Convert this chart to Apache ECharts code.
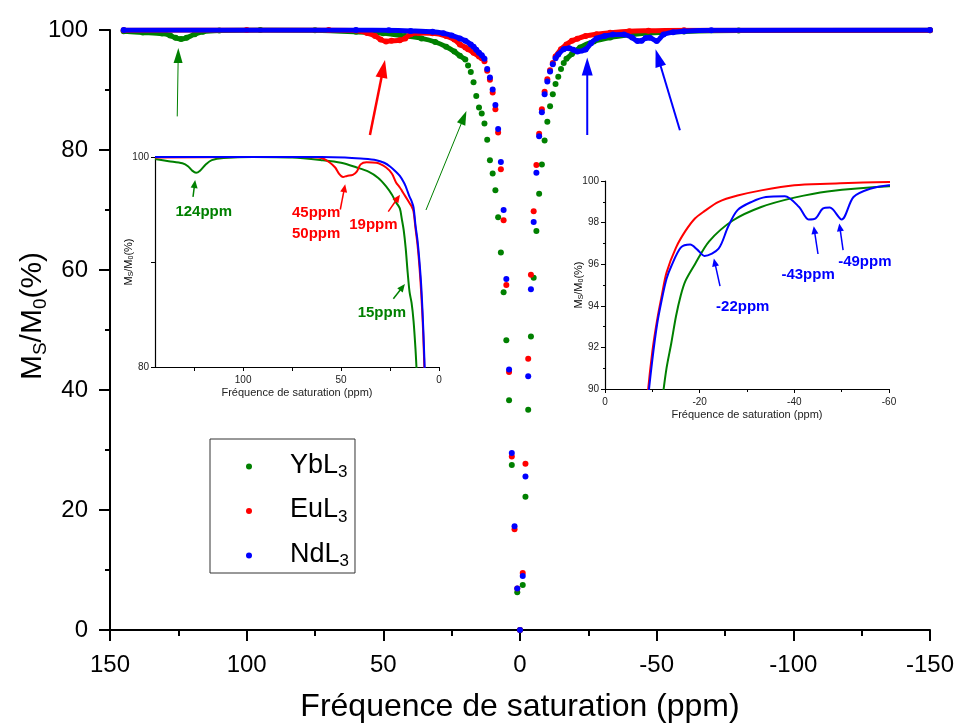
<!DOCTYPE html>
<html><head><meta charset="utf-8">
<script src="https://cdn.jsdelivr.net/npm/echarts@6/dist/echarts.min.js"></script>
<style>html,body{margin:0;padding:0;background:#fff}#c{width:959px;height:724px}</style>
</head><body><div id="c"></div>
<script>
const FONT = '"Liberation Sans", Arial, Helvetica, sans-serif';
const seriesNames = ['YbL3', 'EuL3', 'NdL3'];
const colors = ['#008000', '#ff0000', '#0000ff'];

// [ppm, Ms/M0 %]
const ybL3 = [[145,99.8],[138,99.6],[131,99.4],[128,99.1],[126,98.7],[124,98.5],[122,98.7],[119,99.3],[116,99.7],[110,99.9],[95,100],[75,99.95],[60,99.7],[50,99.45],[42,99.0],[36,98.6],[31,98.0],[27,97.2],[24,96.4],[22,95.7],[20,95.1],[19,94.1],[18,93.0],[17,91.3],[16,89.0],[15,87.1],[14,86.1],[13,84.4],[12,81.7],[11,78.3],[10,76.1],[9,73.3],[8,68.8],[7,62.9],[6,56.3],[5,48.3],[4,38.3],[3,27.5],[1,6.3],[0,0],[-1,7.5],[-2,22.2],[-3,36.7],[-4,48.9],[-5,58.7],[-6,66.5],[-7,72.7],[-8,77.6],[-9,81.6],[-10,84.7],[-11,87.3],[-12,89.3],[-13,91.0],[-14,92.2],[-15,93.5],[-16,94.5],[-17,95.2],[-19,96.0],[-22,97.1],[-27,98.1],[-33,98.75],[-40,99.2],[-47,99.5],[-60,99.75],[-80,99.9],[-150,99.95]];
const euL3 = [[145,99.95],[100,100],[70,100],[60,99.9],[56,99.5],[53,99.0],[51,98.4],[49,98.1],[47,98.2],[44,98.3],[42,98.6],[40,99.3],[37,99.5],[32,99.45],[27,99.0],[24,98.4],[22,97.6],[20,97.1],[19,96.8],[17,96.2],[15,95.6],[14,95.3],[13,94.8],[12,93.2],[11,91.7],[10,89.6],[9,86.8],[8,82.9],[7,76.8],[6,68.3],[5,57.5],[4,43.0],[3,28.9],[2,16.8],[1,6.9],[0,0],[-1,9.5],[-2,27.7],[-3,45.2],[-4,59.2],[-5,69.8],[-6,77.5],[-7,82.7],[-8,86.8],[-9,89.7],[-10,91.8],[-11,93.3],[-12,94.5],[-13,95.6],[-15,96.8],[-17,97.6],[-19,98.2],[-21,98.55],[-24,99.0],[-28,99.3],[-33,99.55],[-40,99.8],[-47,99.87],[-60,99.95],[-150,99.95]];
const ndL3 = [[145,100],[60,100],[48,99.95],[40,99.85],[32,99.7],[28,99.45],[25,99.1],[22,98.6],[20,98.2],[18,97.6],[17,97.2],[16,96.7],[15,96.2],[14,95.8],[13,95.2],[12,93.5],[11,92.1],[10,90.1],[9,87.5],[8,83.5],[7,78.0],[6,70.0],[5,58.5],[4,43.4],[3,29.5],[2,17.3],[1,6.9],[0,0],[-1,9.0],[-2,25.6],[-3,42.3],[-4,56.8],[-5,68.0],[-6,76.2],[-7,82.3],[-8,86.3],[-9,89.3],[-10,91.4],[-11,93.1],[-12,94.3],[-13,95.3],[-14,95.9],[-16,96.8],[-18,96.95],[-19.5,96.7],[-21,96.4],[-24,96.75],[-26,97.8],[-28,98.6],[-31,99.0],[-34,99.23],[-38,99.27],[-41,98.75],[-43,98.15],[-44.5,98.2],[-46,98.67],[-47.5,98.72],[-50,98.15],[-52.5,99.23],[-56,99.63],[-60,99.8],[-70,99.95],[-150,100]];

// axis tick values
const mainXRange = [-150, 150], mainXStep = 50;
const mainYRange = [0, 100], mainYStep = 20;
const inset1XTicks = [0, 25, 50, 75, 100, 125], inset1XLabels = [0, 50, 100];
const inset1YTicks = [80, 90, 100], inset1YLabels = [80, 100];
const inset2XRange = [-60, 0], inset2YRange = [90, 100];

// annotations (data coordinates)
const mainArrowTails = [[125.4,85.6],[54.9,82.5],[34.4,70.0],[-24.6,82.5],[-58.5,83.3]];
const mainArrowTips  = [[125.0,97.0],[49.4,95.0],[19.6,86.5],[-24.6,95.4],[-49.6,96.8]];
const mainArrowColor = [0,1,0,2,2];
const inset1Labels = [['124ppm',120.1,94.8,0],['45ppm',62.7,94.7,1],['50ppm',62.7,92.7,1],['19ppm',33.5,93.5,1],['15ppm',29.2,85.2,0]];
const inset1ArrowTails = [[125.6,96.2],[50.4,95.0],[25.9,94.8],[23.3,86.5]];
const inset1ArrowTips  = [[124.5,97.8],[47.9,97.4],[19.9,96.4],[17.4,87.9]];
const inset1ArrowColor = [0,1,1,0];
const inset2Labels = [['-22ppm',-29.1,93.96,2],['-43ppm',-42.9,95.5,2],['-49ppm',-54.9,96.12,2]];
const inset2ArrowTails = [[-24.3,94.95],[-45.0,96.49],[-50.3,96.68]];
const inset2ArrowTips  = [[-23.0,96.28],[-44.1,97.83],[-49.5,97.96]];

const chart = echarts.init(document.getElementById('c'));
const datasets = [ybL3, euL3, ndL3];
const series = [];
datasets.forEach((arr, i) => {
  series.push({type:'line', name: seriesNames[i] + ' wing', xAxisIndex:0, yAxisIndex:0,
    data: arr.map(d => d[1] >= 95 ? d : [d[0], '-']), showSymbol:false, smooth:0.3,
    lineStyle:{color:colors[i], width:5}, itemStyle:{color:colors[i]}, silent:true, z:2+i});
  series.push({type:'scatter', name: seriesNames[i], xAxisIndex:0, yAxisIndex:0, data: arr,
    symbolSize:6, itemStyle:{color:colors[i], opacity:1}, clip:false, silent:true, z:2+i});
});
[1,2].forEach(g => datasets.forEach((arr, i) => series.push({type:'line', name: seriesNames[i] + ' inset' + g,
  xAxisIndex:g, yAxisIndex:g, data:arr, showSymbol:false, smooth:0.3, clip:true, silent:true,
  lineStyle:{color:colors[i], width:2}, itemStyle:{color:colors[i]}, z:2+i})));

const axLine = w => ({show:true, onZero:false, lineStyle:{color:'#000', width:w}});
const subRich = (big, small, drop) => ({
  a:{fontSize:big, fontFamily:FONT, color:'#000', verticalAlign:'top', lineHeight:Math.round(big*1.07)},
  s:{fontSize:small, fontFamily:FONT, color:'#000', verticalAlign:'bottom', lineHeight:small, padding:[drop,0,0,0]}
});
const msm0 = '{a|M}{s|S}{a|/M}{s|0}{a|(%)}';

const option = {
  animation:false,
  backgroundColor:'#fff',
  grid:[
    {left:110, top:30, width:820, height:600, outerBoundsMode:'none', containLabel:false},
    {left:155, top:157, width:284, height:210, outerBoundsMode:'none', containLabel:false},
    {left:605, top:181, width:284, height:208, outerBoundsMode:'none', containLabel:false}
  ],
  legend:{
    data: seriesNames.map(n => ({name:n, icon:'circle'})),
    orient:'vertical', left:210, top:439, itemWidth:6, itemHeight:6, itemGap:7.5,
    padding:[5,6,3,36], borderColor:'#333', borderWidth:1, selectedMode:false,
    formatter: n => '{sp|}{a|' + n.slice(0,-1) + '}{s|' + n.slice(-1) + '}',
    textStyle:{rich: Object.assign({sp:{width:33}}, subRich(27,17,20))}
  },
  xAxis:[
    {gridIndex:0, type:'value', min:mainXRange[0], max:mainXRange[1], interval:mainXStep, inverse:true,
     axisLine:axLine(2), axisTick:{show:true, length:11, lineStyle:{width:2, color:'#000'}},
     minorTick:{show:true, splitNumber:2, length:6, lineStyle:{width:2, color:'#000'}},
     splitLine:{show:false},
     axisLabel:{fontSize:24, fontFamily:FONT, color:'#000', margin:23},
     name:'Fréquence de saturation (ppm)', nameLocation:'middle', nameGap:61, nameMoveOverlap:false,
     nameTextStyle:{fontSize:32, fontFamily:FONT, color:'#000'}},
    {gridIndex:1, type:'value', min:0, max:145, inverse:true,
     axisLine:axLine(1.2), axisTick:{show:true, length:4, customValues:inset1XTicks, lineStyle:{color:'#000'}},
     splitLine:{show:false},
     axisLabel:{fontSize:10, fontFamily:FONT, color:'#222', margin:8, customValues:inset1XLabels},
     name:'Fréquence de saturation (ppm)', nameLocation:'middle', nameGap:20, nameMoveOverlap:false,
     nameTextStyle:{fontSize:11, fontFamily:FONT, color:'#222'}},
    {gridIndex:2, type:'value', min:inset2XRange[0], max:inset2XRange[1], interval:20, inverse:true,
     axisLine:axLine(1.2), axisTick:{show:true, length:4, lineStyle:{color:'#000'}},
     minorTick:{show:true, splitNumber:2, length:3, lineStyle:{color:'#000'}},
     splitLine:{show:false},
     axisLabel:{fontSize:10, fontFamily:FONT, color:'#222', margin:8},
     name:'Fréquence de saturation (ppm)', nameLocation:'middle', nameGap:20, nameMoveOverlap:false,
     nameTextStyle:{fontSize:11, fontFamily:FONT, color:'#222'}}
  ],
  yAxis:[
    {gridIndex:0, type:'value', min:mainYRange[0], max:mainYRange[1], interval:mainYStep,
     axisLine:axLine(2), axisTick:{show:true, length:11, lineStyle:{width:2, color:'#000'}},
     minorTick:{show:true, splitNumber:2, length:5, lineStyle:{width:2, color:'#000'}},
     splitLine:{show:false},
     axisLabel:{fontSize:24, fontFamily:FONT, color:'#000', margin:22},
     name:msm0, nameLocation:'middle', nameGap:60, nameRotate:90, nameMoveOverlap:false,
     nameTextStyle:{padding:[0,0,0,28], rich: subRich(30,19,20)}},
    {gridIndex:1, type:'value', min:80, max:100,
     axisLine:axLine(1.2), axisTick:{show:true, length:4, customValues:inset1YTicks, lineStyle:{color:'#000'}},
     splitLine:{show:false},
     axisLabel:{fontSize:10, fontFamily:FONT, color:'#222', margin:6, customValues:inset1YLabels},
     name:msm0, nameLocation:'middle', nameGap:20, nameRotate:90, nameMoveOverlap:false,
     nameTextStyle:{rich: subRich(11,7,6)}},
    {gridIndex:2, type:'value', min:inset2YRange[0], max:inset2YRange[1], interval:2,
     axisLine:axLine(1.2), axisTick:{show:true, length:4, lineStyle:{color:'#000'}},
     minorTick:{show:true, splitNumber:2, length:2, lineStyle:{color:'#000'}},
     splitLine:{show:false},
     axisLabel:{fontSize:10, fontFamily:FONT, color:'#222', margin:6},
     name:msm0, nameLocation:'middle', nameGap:20, nameRotate:90, nameMoveOverlap:false,
     nameTextStyle:{rich: subRich(11,7,6)}}
  ],
  series
};
chart.setOption(option);

function arrow(p0, p1, color, width, hl, hw) {
  const dx = p1[0]-p0[0], dy = p1[1]-p0[1], L = Math.hypot(dx, dy);
  const ux = dx/L, uy = dy/L, nx = -uy, ny = ux;
  const bx = p1[0]-ux*hl, by = p1[1]-uy*hl;
  return [
    {type:'line', silent:true, z:50, shape:{x1:p0[0], y1:p0[1], x2:bx+ux*1, y2:by+uy*1}, style:{stroke:color, lineWidth:width}},
    {type:'polygon', silent:true, z:50, shape:{points:[[p1[0],p1[1]],[bx+nx*hw,by+ny*hw],[bx-nx*hw,by-ny*hw]]}, style:{fill:color}}
  ];
}
const px = (g, p) => chart.convertToPixel({gridIndex:g}, p);
const graphic = [];
const mainW = [1, 2.5, 1, 2, 2], mainHL = [15, 18, 14, 18, 18], mainHW = [4.5, 6, 4.5, 5.5, 5.5];
mainArrowTails.forEach((t, k) => graphic.push(...arrow(px(0,t), px(0,mainArrowTips[k]), colors[mainArrowColor[k]], mainW[k], mainHL[k], mainHW[k])));
inset1ArrowTails.forEach((t, k) => graphic.push(...arrow(px(1,t), px(1,inset1ArrowTips[k]), colors[inset1ArrowColor[k]], 1.5, 8, 3.5)));
inset2ArrowTails.forEach((t, k) => graphic.push(...arrow(px(2,t), px(2,inset2ArrowTips[k]), colors[2], 1.5, 8, 3.5)));
const addLabels = (g, list) => list.forEach(l => {
  const p = px(g, [l[1], l[2]]);
  graphic.push({type:'text', silent:true, z:50, x:p[0], y:p[1], style:{text:l[0], fill:colors[l[3]], font:'bold 15px ' + FONT, align:'center', verticalAlign:'middle'}});
});
addLabels(1, inset1Labels);
addLabels(2, inset2Labels);
chart.setOption({graphic});
</script>
</body></html>
